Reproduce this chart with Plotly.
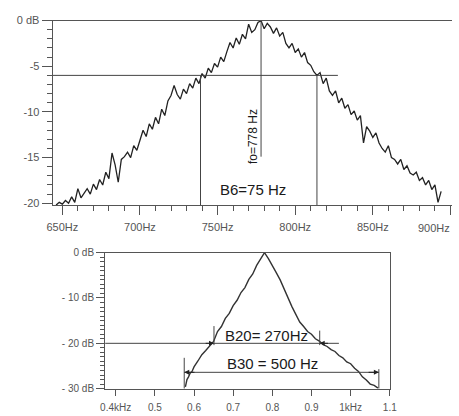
import plotly.graph_objects as go

# ---------------- data: top (narrow-band) spectrum ----------------
top_freq = [646, 648, 650, 652, 654, 656, 658, 660, 662, 664, 666, 668, 670, 672, 674, 676,
            678, 680, 682, 684, 686, 688, 690, 692, 694, 696, 698, 700, 702, 704, 706, 708,
            710, 712, 714, 716, 718, 720, 722, 724, 726, 728, 730, 732, 734, 736, 738, 740,
            742, 744, 746, 748, 750, 752, 754, 756, 758, 760, 762, 764, 766, 768, 770, 772,
            774, 776, 778, 780, 782, 784, 786, 788, 790, 792, 794, 796, 798, 800, 802, 804,
            806, 808, 810, 812, 814, 816, 818, 820, 822, 824, 826, 828, 830, 832, 834, 836,
            838, 840, 842, 844, 846, 848, 850, 852, 854, 856, 858, 860, 862, 864, 866, 868,
            870, 872, 874, 876, 878, 880, 882, 884, 886, 888, 890, 892, 894]
top_db = [-20.2, -19.9, -20.1, -19.7, -20.0, -19.3, -19.9, -18.4, -19.4, -18.9, -18.4, -19.0,
          -17.9, -18.5, -17.4, -18.0, -16.6, -17.3, -14.5, -15.8, -17.7, -15.2, -14.9, -14.4,
          -15.0, -13.7, -14.2, -13.1, -12.0, -12.7, -11.3, -11.9, -10.6, -11.3, -9.7, -10.4,
          -8.8, -8.2, -7.1, -8.1, -8.6, -7.5, -8.0, -6.9, -7.4, -6.3, -6.9, -5.8, -6.3, -5.2,
          -5.7, -4.7, -5.1, -4.0, -4.5, -3.4, -2.4, -3.0, -1.9, -2.6, -1.5, -2.0, -0.4, -1.3,
          -1.0, -0.2, 0.0, -0.9, -0.3, -0.7, -1.4, -0.8, -1.7, -1.3, -2.5, -3.0, -2.5, -3.5,
          -3.1, -4.0, -3.5, -4.6, -4.9, -5.6, -6.0, -5.7, -6.9, -6.3, -7.7, -8.2, -7.7, -9.0,
          -8.5, -9.6, -9.2, -10.3, -9.9, -10.9, -10.4, -13.4, -11.6, -12.1, -12.8, -12.3,
          -13.4, -14.0, -14.4, -13.7, -15.0, -15.2, -15.7, -15.2, -16.3, -15.9, -16.7, -16.9,
          -16.6, -17.5, -17.2, -18.0, -17.5, -18.5, -18.0, -19.9, -18.7]

top_xticks = [650, 700, 750, 800, 850, 900]
top_xticktext = ["650Hz", "700Hz", "750Hz", "800Hz", "850Hz", ""]
top_yticks = [0, -5, -10, -15, -20]
top_yticktext = ["0 dB", "-5", "-10", "-15", "-20"]

fo = 778
b6_level = -6
b6_lo, b6_hi = 739, 814
b6_line_end = 827.5
fo_line_end = -14.9

# ---------------- data: bottom (wide) response ----------------
bot_freq = [0.578, 0.582, 0.586, 0.59, 0.595, 0.60, 0.61, 0.62, 0.63, 0.64, 0.65, 0.66,
            0.67, 0.68, 0.69, 0.70, 0.71, 0.72, 0.73, 0.74, 0.75, 0.76, 0.77, 0.78, 0.79,
            0.80, 0.81, 0.82, 0.83, 0.84, 0.85, 0.86, 0.87, 0.88, 0.89, 0.90, 0.91, 0.92,
            0.93, 0.94, 0.95, 0.96, 0.97, 0.98, 0.99, 1.00, 1.01, 1.02, 1.03, 1.04, 1.05,
            1.06, 1.07]
bot_db = [-29.6, -28.0, -27.4, -26.6, -26.2, -25.2, -23.9, -22.5, -21.6, -20.5, -19.6, -17.4,
          -16.3, -14.5, -13.4, -11.7, -10.5, -8.8, -7.7, -5.9, -4.7, -2.8, -1.5, 0.0, -1.3,
          -2.7, -4.4, -6.0, -8.1, -9.8, -11.9, -13.6, -15.3, -16.3, -17.4, -18.0, -19.0,
          -19.5, -20.3, -20.7, -21.4, -21.8, -22.7, -23.2, -24.1, -24.5, -25.5, -26.2,
          -27.4, -28.1, -29.0, -29.3, -29.9]

bot_xticks = [0.4, 0.5, 0.6, 0.7, 0.8, 0.9, 1.0, 1.1]
bot_xticktext = ["0.4kHz", "0.5", "0.6", "0.7", "0.8", "0.9", "1kHz", "1.1"]
bot_yticks = [0, -10, -20, -30]
bot_yticktext = ["0 dB", "- 10 dB", "- 20 dB", "- 30 dB"]

b20_level = -20
b20_lo, b20_hi = 0.651, 0.921
b20_line_end = 0.97
b30_level = -26.4
b30_lo, b30_hi = 0.575, 1.072

# ---------------- figure ----------------
W, H = 459, 416
FONT = "Liberation Sans, Arial, sans-serif"
AX = "#555555"
LN = "#444444"
TXT = "#1a1a1a"

fig = go.Figure()
fig.add_trace(go.Scatter(x=top_freq, y=top_db, mode="lines",
                         line=dict(color="#222222", width=1.3),
                         xaxis="x", yaxis="y", showlegend=False, hoverinfo="skip"))
fig.add_trace(go.Scatter(x=bot_freq, y=bot_db, mode="lines",
                         line=dict(color="#333333", width=1.4),
                         xaxis="x2", yaxis="y2", showlegend=False, hoverinfo="skip"))

tickfont = dict(family=FONT, size=11, color="#555555")
tickfont_b = dict(family=FONT, size=10, color="#555555")

fig.update_layout(
    width=W, height=H, autosize=False,
    margin=dict(l=0, r=0, t=0, b=0),
    paper_bgcolor="white", plot_bgcolor="white",
    showlegend=False,
    xaxis=dict(domain=[48 / W, 1.0], range=[643.75, 901], anchor="y",
               tickmode="array", tickvals=top_xticks, ticktext=top_xticktext,
               ticks="outside", ticklen=9, tickcolor=AX, tickwidth=1,
               ticklabelstandoff=3,
               minor=dict(tickmode="linear", tick0=650, dtick=10, ticks="outside",
                          ticklen=5, tickcolor=AX),
               showline=True, linecolor=AX, linewidth=1, mirror=True,
               showgrid=False, zeroline=False, tickfont=tickfont),
    yaxis=dict(domain=[1 - 205 / H, 1 - 15 / H], range=[-20.2, 0], anchor="x",
               tickmode="array", tickvals=top_yticks, ticktext=top_yticktext,
               ticks="outside", ticklen=10, tickcolor=AX,
               minor=dict(tickmode="linear", tick0=0, dtick=1, ticks="outside",
                          ticklen=5, tickcolor=AX),
               showline=True, linecolor=AX, linewidth=1,
               showgrid=False, zeroline=False, tickfont=tickfont),
    xaxis2=dict(domain=[102 / W, 395 / W], range=[0.373, 1.1], anchor="y2",
                tickmode="array", tickvals=bot_xticks, ticktext=bot_xticktext,
                ticks="outside", ticklen=6, tickcolor=AX, ticklabelstandoff=3,
                showline=True, linecolor=AX, linewidth=1, mirror=True,
                showgrid=False, zeroline=False, tickfont=tickfont_b),
    yaxis2=dict(domain=[1 - 394 / H, 1 - 254 / H], range=[-30, 0], anchor="x2",
                tickmode="array", tickvals=bot_yticks, ticktext=bot_yticktext,
                ticks="outside", ticklen=8, tickcolor=AX,
                minor=dict(tickmode="linear", tick0=0, dtick=1, ticks="outside",
                           ticklen=4, tickcolor=AX),
                showline=True, linecolor=AX, linewidth=1, mirror=True,
                showgrid=False, zeroline=False, tickfont=tickfont_b),
)

line_style = dict(color=LN, width=1)
shapes = [
    # top chart
    dict(type="line", xref="x", yref="y", x0=643.75, x1=b6_line_end, y0=b6_level, y1=b6_level, line=line_style),
    dict(type="line", xref="x", yref="y", x0=b6_lo, x1=b6_lo, y0=b6_level, y1=-20.2, line=line_style),
    dict(type="line", xref="x", yref="y", x0=b6_hi, x1=b6_hi, y0=b6_level, y1=-20.2, line=line_style),
    dict(type="line", xref="x", yref="y", x0=fo, x1=fo, y0=0, y1=fo_line_end, line=line_style),
    # bottom chart
    dict(type="line", xref="x2", yref="y2", x0=0.373, x1=b20_line_end, y0=b20_level, y1=b20_level, line=line_style),
    dict(type="line", xref="x2", yref="y2", x0=b20_lo, x1=b20_lo, y0=-16.2, y1=-20.4, line=line_style),
    dict(type="line", xref="x2", yref="y2", x0=b20_hi, x1=b20_hi, y0=-17.2, y1=-20.4, line=line_style),
    dict(type="line", xref="x2", yref="y2", x0=b30_lo, x1=b30_hi, y0=b30_level, y1=b30_level, line=line_style),
    dict(type="line", xref="x2", yref="y2", x0=b30_lo, x1=b30_lo, y0=-23.2, y1=-30, line=line_style),
    dict(type="line", xref="x2", yref="y2", x0=b30_hi, x1=b30_hi, y0=-25.7, y1=-30, line=line_style),
]
fig.update_layout(shapes=shapes)

lab = dict(family=FONT, size=12, color=TXT)
big = dict(family=FONT, size=15, color=TXT)
annotations = [
    dict(text="900Hz", x=1.0, y=1 - 229 / H, xref="paper", yref="paper",
         xanchor="right", yanchor="middle", showarrow=False, font=tickfont),
    dict(text="fo=778 Hz", x=772.5, y=-12.7, xref="x", yref="y", textangle=-90,
         showarrow=False, font=lab),
    dict(text="B6=75 Hz", x=773.0, y=-18.5, xref="x", yref="y",
         showarrow=False, font=big),
    dict(text="B20= 270Hz", x=0.785, y=b20_level, xref="x2", yref="y2",
         yanchor="bottom", yshift=-3, showarrow=False, font=big),
    dict(text="B30 = 500 Hz", x=0.80, y=b30_level, xref="x2", yref="y2",
         yanchor="bottom", yshift=-2, showarrow=False, font=big),
]
arrow = dict(showarrow=True, arrowhead=2, arrowsize=1, arrowwidth=1, arrowcolor="#222222",
             xref="x2", yref="y2", axref="x2", ayref="y2", text="")
annotations += [
    dict(x=b20_lo, y=b20_level, ax=b20_lo - 0.025, ay=b20_level, **arrow),
    dict(x=b20_hi, y=b20_level, ax=b20_hi + 0.025, ay=b20_level, **arrow),
    dict(x=b30_lo, y=b30_level, ax=b30_lo + 0.03, ay=b30_level, **arrow),
    dict(x=b30_hi, y=b30_level, ax=b30_hi - 0.03, ay=b30_level, **arrow),
]
fig.update_layout(annotations=annotations)

fig.write_html("out.html",
               config={"displayModeBar": False, "staticPlot": True},
               post_script="document.body.style.margin='0px';"
                           "document.body.style.overflow='hidden';")
